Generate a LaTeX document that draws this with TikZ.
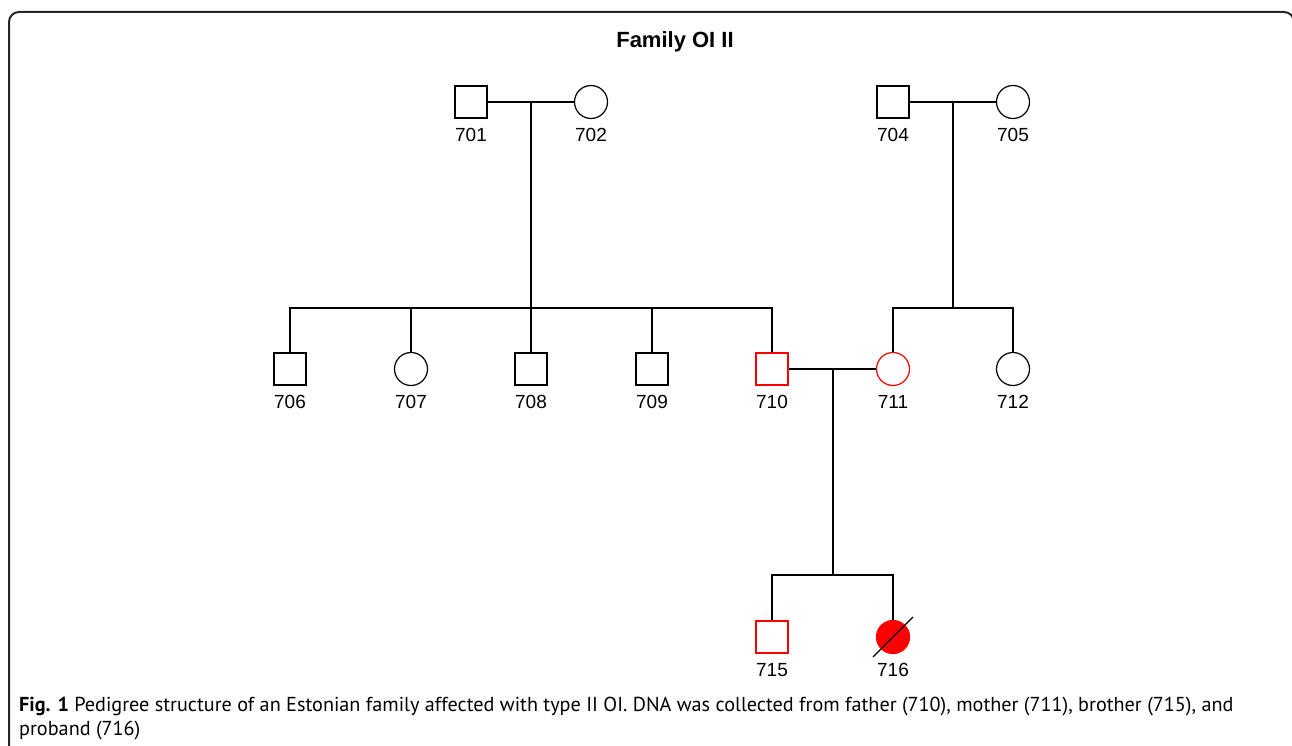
\documentclass[tikz,border=0pt]{standalone}
\usepackage{fontspec}
\setmainfont{Liberation Sans}
\newfontfamily\capfont{PT Sans}
\begin{document}
\begin{tikzpicture}[x=1pt,y=-1pt,
  male/.style={draw, rectangle, minimum size=32pt, inner sep=0pt, line width=1.2pt},
  female/.style={draw, circle, minimum size=33pt, inner sep=0pt, line width=1.2pt},
  aff/.style={draw=red},
  lbl/.style={font=\fontsize{19}{21}\selectfont, inner sep=0pt},
  conn/.style={line width=1.2pt},
  frame/.style={line width=2pt, draw=black!85, rounded corners=10pt}
]
\useasboundingbox (0,0) rectangle (1292,746);
\clip (0,0) rectangle (1292,746);
\draw[frame] (9,760) -- (9,12) -- (1294,12) -- (1294,760);

\node[font=\bfseries\fontsize{22}{26}\selectfont, inner sep=0pt] (title) at (675,42) {Family OI II};

% generation I
\node[male] (n701) at (471,102) {};
\node[female] (n702) at (591,102) {};
\node[male] (n704) at (893,102) {};
\node[female] (n705) at (1013,102) {};
% generation II
\node[male] (n706) at (290,369) {};
\node[female] (n707) at (411,369) {};
\node[male] (n708) at (531,369) {};
\node[male] (n709) at (652,369) {};
\node[male,aff] (n710) at (772,369) {};
\node[female,aff] (n711) at (893,369) {};
\node[female] (n712) at (1013,369) {};
% generation III
\node[male,aff] (n715) at (772,637) {};
\node[female,draw=red,fill=red] (n716) at (893,637) {};

% labels
\foreach \n/\x/\y in {701/471/102,702/591/102,704/893/102,705/1013/102,
  706/290/369,707/411/369,708/531/369,709/652/369,710/772/369,711/893/369,712/1013/369,
  715/772/637,716/893/637}{
  \node[lbl] (l\n) at (\x,\y+33) {\n};
}

% coordinates
\coordinate (m1) at (531,102);
\coordinate (s1) at (531,308);
\coordinate (m2) at (953,102);
\coordinate (s2) at (953,308);
\coordinate (m3) at (833,369);
\coordinate (s3) at (833,575);
\coordinate (d1) at (873,657);
\coordinate (d2) at (913,617);

% marriages
\draw[conn] (n701.east) -- (n702.west);
\draw[conn] (n704.east) -- (n705.west);
\draw[conn] (n710.east) -- (n711.west);
% descent lines
\draw[conn] (m1) -- (s1);
\draw[conn] (m2) -- (s2);
\draw[conn] (m3) -- (s3);
% sibships
\draw[conn] (n706.north) |- (s1) -| (n710.north);
\draw[conn] (n707.north) -- (n707.north |- s1);
\draw[conn] (n708.north) -- (n708.north |- s1);
\draw[conn] (n709.north) -- (n709.north |- s1);
\draw[conn] (n711.north) |- (s2) -| (n712.north);
\draw[conn] (n715.north) |- (s3) -| (n716.north);
% deceased
\draw[line width=1.2pt] (d1) -- (d2);

\node[anchor=north west, align=left, inner sep=0pt, font=\capfont\fontsize{20.2}{24}\selectfont] (cap) at (19,697)
  {\textbf{Fig. 1} Pedigree structure of an Estonian family affected with type II OI. DNA was collected from father (710), mother (711), brother (715), and\\proband (716)};
\end{tikzpicture}
\end{document}
